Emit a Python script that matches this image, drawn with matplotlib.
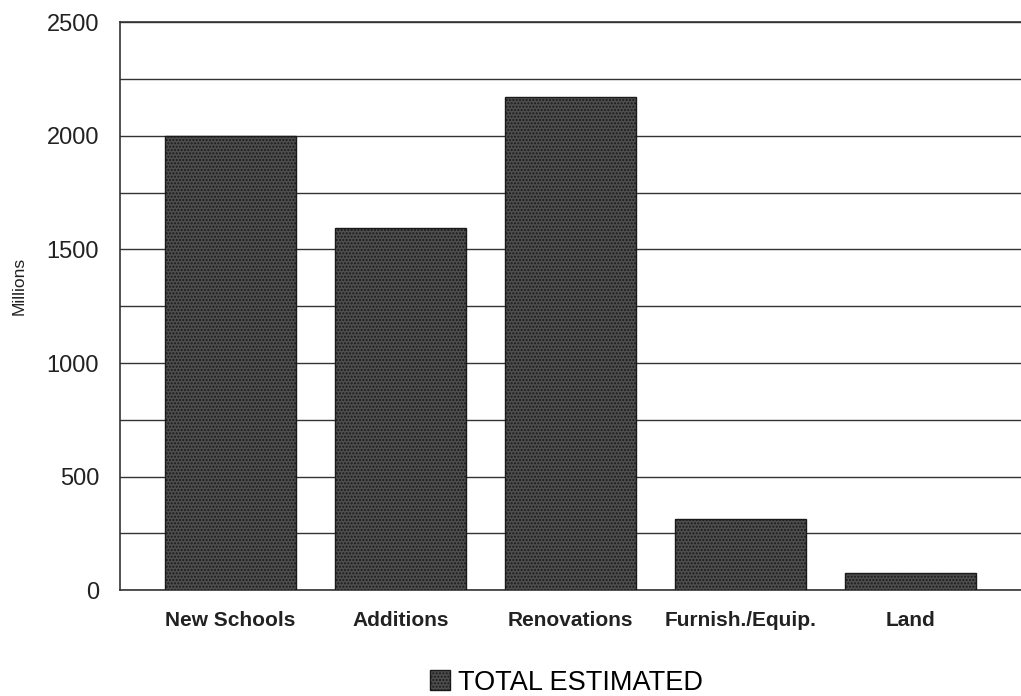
import numpy as np
import matplotlib
matplotlib.use("Agg")
import matplotlib.pyplot as plt
from matplotlib.patches import Patch

# data
categories = ["New Schools", "Additions", "Renovations", "Furnish./Equip.", "Land"]
values = [2000, 1595, 2170, 315, 75]
series_name = "TOTAL ESTIMATED"
y_ticks = [0, 500, 1000, 1500, 2000, 2500]

plt.rcParams['font.family'] = ['Liberation Sans', 'DejaVu Sans']
plt.rcParams['hatch.color'] = '#e0e0e0'
plt.rcParams['hatch.linewidth'] = 1.0

fig = plt.figure(figsize=(10.21, 6.96), dpi=100)
ax = fig.add_axes([0.1175, 0.152, 0.8825, 0.816])

x = np.arange(len(categories))
ax.bar(x, values, width=0.77, color='#4e4e4e', edgecolor='#1a1a1a',
       linewidth=1.0, hatch='.....', zorder=3)

ax.set_ylim(0, 2500)
ax.set_xlim(-0.65, 4.65)
ax.set_yticks(y_ticks)
ax.set_yticks(np.arange(0, 2501, 250), minor=True)
ax.grid(axis='y', which='both', color='#333333', linewidth=1.0, zorder=0)
ax.tick_params(axis='y', which='both', length=0, pad=15, labelsize=17, colors='#222222')
ax.tick_params(axis='x', length=0, pad=15)
ax.set_xticks(x)
ax.set_xticklabels(categories, fontsize=15, fontweight='bold', color='#222222')
ax.set_ylabel("Millions", fontsize=12.5, color='#222222')
ax.yaxis.set_label_coords(-0.104, 0.535)

ax.spines['right'].set_visible(False)
for s in ['left', 'bottom', 'top']:
    ax.spines[s].set_color('#333333')
    ax.spines[s].set_linewidth(1.2)

handle = Patch(facecolor='#4e4e4e', edgecolor='#1a1a1a', hatch='.....', label=series_name)
fig.legend(handles=[handle], loc='center', bbox_to_anchor=(0.555, 0.019),
           frameon=False, fontsize=19.5, handlelength=0.75, handleheight=0.75,
           handletextpad=0.3)

fig.savefig("out.png", dpi=100, facecolor='white')
